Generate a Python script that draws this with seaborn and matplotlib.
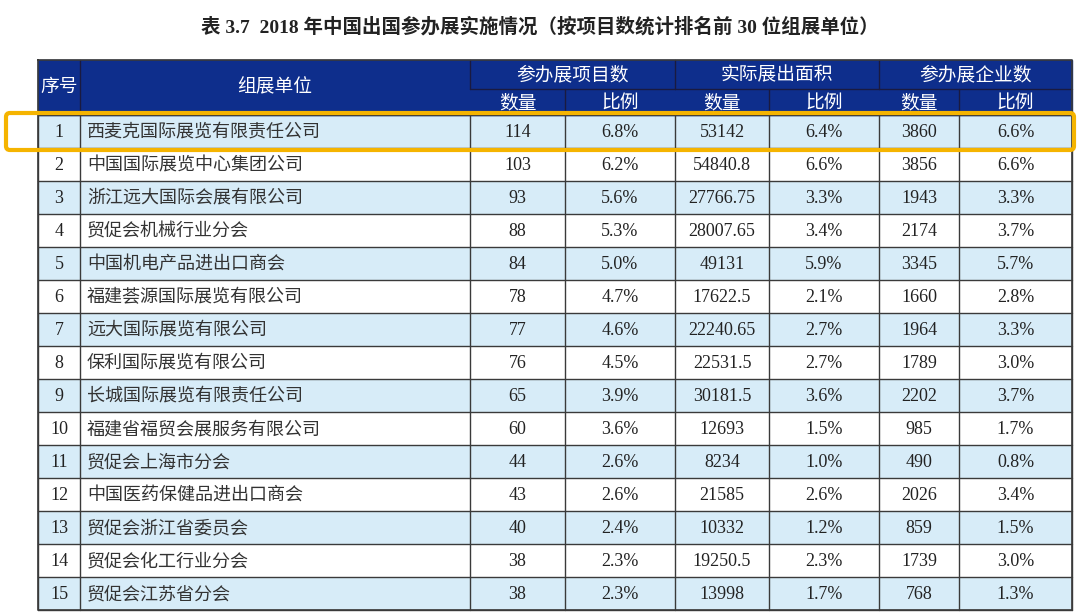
import numpy as np
import matplotlib.pyplot as plt
import seaborn as sns
from matplotlib.colors import ListedColormap
from matplotlib.patches import FancyBboxPatch

sns.set_theme(style="white")
plt.rcParams['font.family'] = ['Liberation Serif', 'Noto Sans CJK SC']

title = "表 3.7  2018 年中国出国参办展实施情况（按项目数统计排名前 30 位组展单位）"
ranks = list(range(1, 16))
units = ["西麦克国际展览有限责任公司", "中国国际展览中心集团公司", "浙江远大国际会展有限公司",
         "贸促会机械行业分会", "中国机电产品进出口商会", "福建荟源国际展览有限公司",
         "远大国际展览有限公司", "保利国际展览有限公司", "长城国际展览有限责任公司",
         "福建省福贸会展服务有限公司", "贸促会上海市分会", "中国医药保健品进出口商会",
         "贸促会浙江省委员会", "贸促会化工行业分会", "贸促会江苏省分会"]
projects = ["114", "103", "93", "88", "84", "78", "77", "76", "65", "60", "44", "43", "40", "38", "38"]
projects_pct = ["6.8%", "6.2%", "5.6%", "5.3%", "5.0%", "4.7%", "4.6%", "4.5%", "3.9%", "3.6%",
                "2.6%", "2.6%", "2.4%", "2.3%", "2.3%"]
area = ["53142", "54840.8", "27766.75", "28007.65", "49131", "17622.5", "22240.65", "22531.5",
        "30181.5", "12693", "8234", "21585", "10332", "19250.5", "13998"]
area_pct = ["6.4%", "6.6%", "3.3%", "3.4%", "5.9%", "2.1%", "2.7%", "2.7%", "3.6%", "1.5%",
            "1.0%", "2.6%", "1.2%", "2.3%", "1.7%"]
firms = ["3860", "3856", "1943", "2174", "3345", "1660", "1964", "1789", "2202", "985",
         "490", "2026", "859", "1739", "768"]
firms_pct = ["6.6%", "6.6%", "3.3%", "3.7%", "5.7%", "2.8%", "3.3%", "3.0%", "3.7%", "1.7%",
             "0.8%", "3.4%", "1.5%", "3.0%", "1.3%"]
groups = ["参办展项目数", "实际展出面积", "参办展企业数"]

W, H = 1080, 615
xs = [38, 80, 470, 565, 675, 769, 879, 959, 1072]
y_top, y_mid, y_head = 60, 89, 115
row_h = 33
n = len(ranks)
navy = "#0e2e8c"
line = "#3a3a3a"

fig = plt.figure(figsize=(W / 100, H / 100), dpi=100)

# striped body background via seaborn heatmap
body = fig.add_axes([xs[0] / W, 1 - (y_head + n * row_h) / H, (xs[-1] - xs[0]) / W, n * row_h / H])
stripes = np.array([[1 - i % 2] for i in range(n)])
sns.heatmap(stripes, ax=body, cmap=ListedColormap(["#ffffff", "#d7ecf8"]), cbar=False,
            xticklabels=False, yticklabels=False, vmin=0, vmax=1)
body.set_axis_off()

ax = fig.add_axes([0, 0, 1, 1], facecolor="none")
ax.set_xlim(0, W)
ax.set_ylim(H, 0)
ax.set_axis_off()

ax.text(W / 2, 27, title, ha="center", va="center", fontsize=14, fontweight="bold", color="#222222")

# header
ax.add_patch(plt.Rectangle((xs[0], y_top), xs[-1] - xs[0], y_head - y_top, color=navy, zorder=1))
ax.text((xs[0] + xs[1]) / 2, (y_top + y_head) / 2, "序号", ha="center", va="center", color="white", fontsize=13.5)
ax.text((xs[1] + xs[2]) / 2, (y_top + y_head) / 2, "组展单位", ha="center", va="center", color="white", fontsize=13.5)
for g, name in enumerate(groups):
    x0, x1, x2 = xs[2 + 2 * g], xs[3 + 2 * g], xs[4 + 2 * g]
    ax.text((x0 + x2) / 2, (y_top + y_mid) / 2 + 1, name, ha="center", va="center", color="white", fontsize=13.5)
    ax.text((x0 + x1) / 2, (y_mid + y_head) / 2 + 2, "数量", ha="center", va="center", color="white", fontsize=13.5)
    ax.text((x1 + x2) / 2, (y_mid + y_head) / 2 + 2, "比例", ha="center", va="center", color="white", fontsize=13.5)
    ax.plot([x0, x2], [y_mid, y_mid], color="#1a1a40", lw=1, zorder=2)
    ax.plot([x1, x1], [y_mid, y_head], color="#1a1a40", lw=1, zorder=2)
for x in [xs[2], xs[4], xs[6]]:
    ax.plot([x, x], [y_top, y_mid], color="#1a1a40", lw=1, zorder=2)
ax.plot([xs[1], xs[1]], [y_top, y_head], color="#1a1a40", lw=1, zorder=2)

# body
y_bot = y_head + n * row_h
for x in xs:
    ax.plot([x, x], [y_head, y_bot], color=line, lw=1, zorder=2)
for i in range(n + 1):
    ax.plot([xs[0], xs[-1]], [y_head + i * row_h] * 2, color=line, lw=1, zorder=2)
ax.plot([xs[0], xs[-1], xs[-1], xs[0], xs[0]], [y_top, y_top, y_bot, y_bot, y_top], color=line, lw=1.2, zorder=2)

cols = [projects, projects_pct, area, area_pct, firms, firms_pct]
for i in range(n):
    yc = y_head + i * row_h + row_h / 2 + 1
    ax.text((xs[0] + xs[1]) / 2, yc, str(ranks[i]), ha="center", va="center", fontsize=13, color="#222222")
    ax.text(xs[1] + 7, yc, units[i], ha="left", va="center", fontsize=13, color="#333333")
    for c, vals in enumerate(cols):
        ax.text((xs[2 + c] + xs[3 + c]) / 2, yc, vals[i], ha="center", va="center", fontsize=13, color="#222222")

# highlight box around first row
ax.add_patch(FancyBboxPatch((6, y_head - 2), 1068, row_h + 4, boxstyle="round,pad=0,rounding_size=4",
                            fill=False, ec="#f5b400", lw=3, zorder=3))

fig.savefig("out.png", dpi=100)
